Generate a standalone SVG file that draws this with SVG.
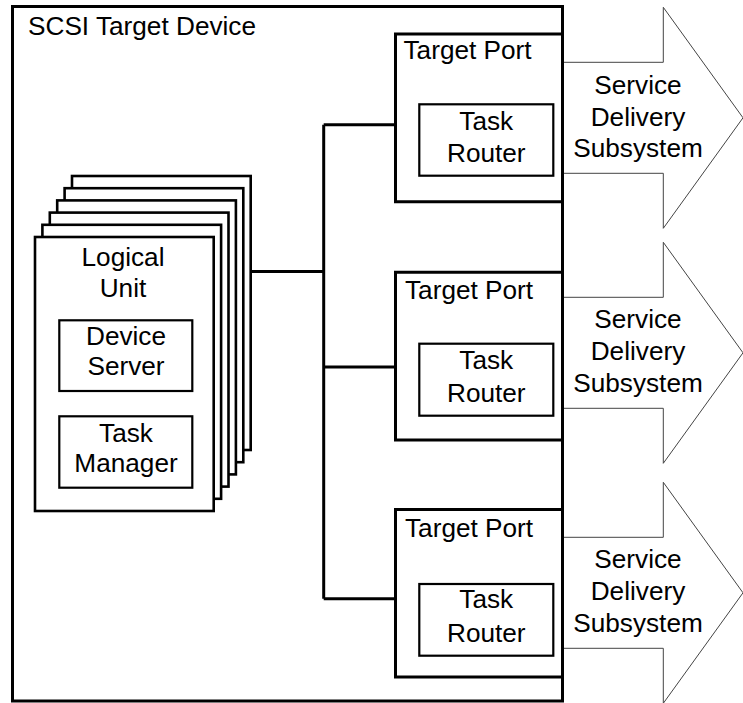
<svg xmlns="http://www.w3.org/2000/svg" width="743" height="703" viewBox="0 0 743 703">
<style>
  text { font-family: "Liberation Sans", Arial, sans-serif; font-size: 26.2px; fill: #000; }
  .c { text-anchor: middle; }
  .box { fill: none; stroke: #000; stroke-width: 3; }
  .inner { fill: #fff; stroke: #000; stroke-width: 2.2; }
  .page { fill: #fff; stroke: #000; stroke-width: 2.6; }
  .arrow { fill: #fff; stroke: #444; stroke-width: 1; }
  .wire { fill: none; stroke: #000; stroke-width: 3; }
</style>
<rect width="743" height="703" fill="#fff"/>

<g id="arrows">
  <polygon class="arrow" points="563,62.3 663.3,62.3 663.3,7.3 743,117.8 663.3,228.3 663.3,173.3 563,173.3"/>
  <polygon class="arrow" points="563,297.3 663.3,297.3 663.3,242.3 743,352.8 663.3,463.3 663.3,408.3 563,408.3"/>
  <polygon class="arrow" points="563,537.3 663.3,537.3 663.3,482.3 743,592.8 663.3,703.3 663.3,648.3 563,648.3"/>
</g>

<g id="scsi-target-device">
  <rect class="box" x="12.5" y="6.5" width="550" height="694.5"/>
  <text x="28" y="35">SCSI Target Device</text>
</g>

<g id="sds1">
  <text class="c" x="638" y="94">Service</text>
  <text class="c" x="638" y="126">Delivery</text>
  <text class="c" x="638" y="157">Subsystem</text>
</g>
<g id="sds2">
  <text class="c" x="638" y="328">Service</text>
  <text class="c" x="638" y="360">Delivery</text>
  <text class="c" x="638" y="392">Subsystem</text>
</g>
<g id="sds3">
  <text class="c" x="638" y="568">Service</text>
  <text class="c" x="638" y="600">Delivery</text>
  <text class="c" x="638" y="632">Subsystem</text>
</g>

<g id="connectors">
  <polyline class="wire" points="250.7,271.5 323.7,271.5"/>
  <polyline class="wire" points="323.7,124.7 323.7,598.7"/>
  <polyline class="wire" points="323.7,124.7 395.5,124.7"/>
  <polyline class="wire" points="323.7,367 395.5,367"/>
  <polyline class="wire" points="323.7,598.7 395.5,598.7"/>
</g>

<g id="logical-unit">
  <rect class="page" x="72" y="176" width="178.7" height="274"/>
  <rect class="page" x="64.6" y="188.2" width="178.7" height="274"/>
  <rect class="page" x="57.2" y="200.4" width="178.7" height="274"/>
  <rect class="page" x="49.8" y="212.6" width="178.7" height="274"/>
  <rect class="page" x="42.4" y="224.8" width="178.7" height="274"/>
  <rect class="page" x="35" y="237" width="178.7" height="274"/>
  <text class="c" x="123" y="266">Logical</text>
  <text class="c" x="123" y="297">Unit</text>
</g>

<g id="device-server">
  <rect class="inner" x="59.3" y="320.3" width="133" height="70.7"/>
  <text class="c" x="126" y="345">Device</text>
  <text class="c" x="126" y="375">Server</text>
</g>

<g id="task-manager">
  <rect class="inner" x="59.3" y="416.3" width="133" height="71.4"/>
  <text class="c" x="126" y="442">Task</text>
  <text class="c" x="126" y="472">Manager</text>
</g>

<g id="target-port-1">
  <polyline class="wire" points="562.5,34 395.5,34 395.5,201.7 562.5,201.7"/>
  <text x="403.5" y="59">Target Port</text>
</g>
<g id="task-router-1">
  <rect class="inner" x="419.3" y="104.3" width="134" height="71.4"/>
  <text class="c" x="486.3" y="130">Task</text>
  <text class="c" x="486.3" y="162">Router</text>
</g>

<g id="target-port-2">
  <polyline class="wire" points="562.5,272.3 395.5,272.3 395.5,440 562.5,440"/>
  <text x="405" y="299">Target Port</text>
</g>
<g id="task-router-2">
  <rect class="inner" x="419.3" y="343.7" width="134" height="72"/>
  <text class="c" x="486.3" y="369">Task</text>
  <text class="c" x="486.3" y="402">Router</text>
</g>

<g id="target-port-3">
  <polyline class="wire" points="562.5,509.5 395.5,509.5 395.5,677 562.5,677"/>
  <text x="405" y="537">Target Port</text>
</g>
<g id="task-router-3">
  <rect class="inner" x="419.3" y="584" width="134" height="71.7"/>
  <text class="c" x="486.3" y="608">Task</text>
  <text class="c" x="486.3" y="642">Router</text>
</g>
</svg>
